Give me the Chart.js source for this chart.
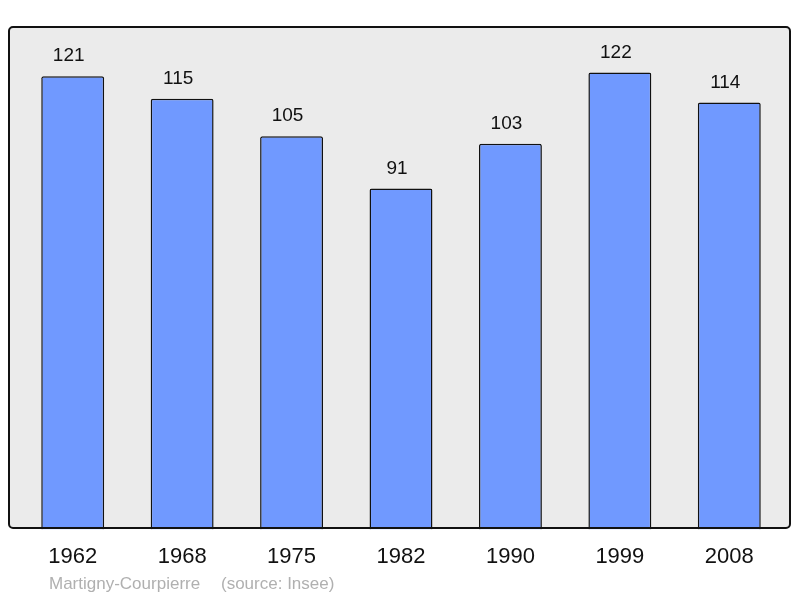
<!DOCTYPE html>
<html>
<head>
<meta charset="utf-8">
<script src="https://cdn.jsdelivr.net/npm/chart.js@4/dist/chart.umd.min.js"></script>
<style>
  html, body { margin: 0; padding: 0; background: #fff; }
  #wrap { width: 800px; height: 598px; }
</style>
</head>
<body>
<div id="wrap"><canvas id="popChart" width="800" height="598"></canvas></div>
<script>
// Population data
var years = ['1962', '1968', '1975', '1982', '1990', '1999', '2008'];
var population = [121, 115, 105, 91, 103, 122, 114];
var townName = 'Martigny-Courpierre';
var sourceText = '(source: Insee)';

// grey frame behind the bars, border drawn over them
var framePlugin = {
    id: 'frame',
    beforeDatasetsDraw: function(chart) {
        var ctx = chart.ctx;
        ctx.save();
        ctx.fillStyle = '#ebebeb';
        ctx.beginPath();
        ctx.roundRect(9, 27, 781, 501, 4);
        ctx.fill();
        ctx.restore();
    },
    afterDatasetsDraw: function(chart) {
        var ctx = chart.ctx;
        var meta = chart.getDatasetMeta(0);
        ctx.save();
        ctx.strokeStyle = '#111';
        ctx.lineWidth = 2;
        ctx.beginPath();
        ctx.roundRect(9, 27, 781, 501, 4);
        ctx.stroke();

        // value labels over the bars (sit a bit left of centre like the original)
        ctx.fillStyle = '#111';
        ctx.font = '19px "Liberation Sans", Arial, sans-serif';
        ctx.textAlign = 'center';
        ctx.textBaseline = 'middle';
        meta.data.forEach(function(bar, i) {
            ctx.fillText(population[i], bar.x - 4, bar.y - 20);
        });

        // footer
        ctx.fillStyle = '#b0b0b0';
        ctx.font = '17px "Liberation Sans", Arial, sans-serif';
        ctx.textAlign = 'left';
        ctx.fillText(townName, 49, 584);
        ctx.fillText(sourceText, 221, 584);
        ctx.restore();
    }
};

var ctx = document.getElementById('popChart').getContext('2d');
var popChart = new Chart(ctx, {
    type: 'bar',
    data: {
        labels: years,
        datasets: [{
            data: population,
            backgroundColor: '#7099ff',
            borderColor: '#111',
            borderWidth: 1.5,
            borderRadius: 2,
            borderSkipped: 'bottom',
            barPercentage: 0.575,
            categoryPercentage: 1
        }]
    },
    options: {
        responsive: false,
        animation: false,
        layout: {
            padding: { left: 18, right: 16, top: 27.5, bottom: 14 }
        },
        plugins: {
            legend: { display: false },
            tooltip: { enabled: false }
        },
        scales: {
            x: {
                grid: { display: false, drawTicks: false },
                border: { display: false },
                ticks: {
                    color: '#111',
                    padding: 14,
                    font: { family: '"Liberation Sans", Arial, sans-serif', size: 22 }
                }
            },
            y: {
                display: false,
                min: 0,
                max: 134
            }
        }
    },
    plugins: [framePlugin]
});
</script>
</body>
</html>
